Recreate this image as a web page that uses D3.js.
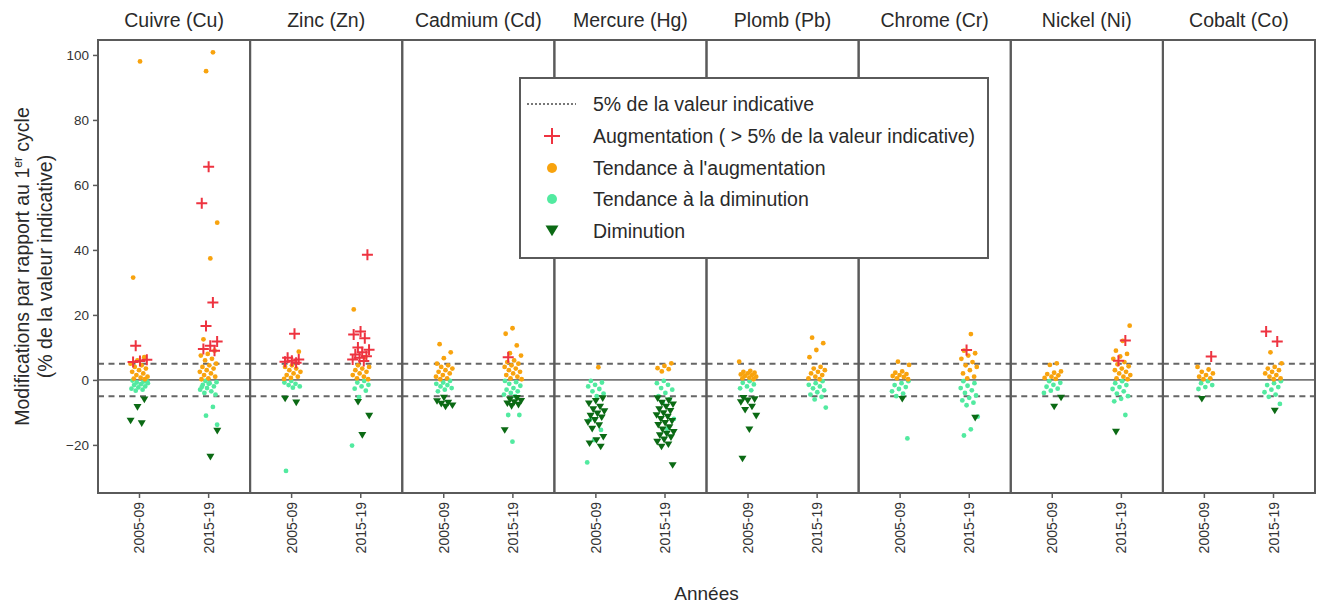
<!DOCTYPE html>
<html><head><meta charset="utf-8">
<script src="https://cdn.jsdelivr.net/npm/d3@7"></script>
<style>
body{margin:0;background:#fff;}
svg{font-family:"Liberation Sans",Arial,sans-serif;}
</style></head>
<body><svg id="c" width="1317" height="603"></svg>
<script>
const metals = ["Cuivre (Cu)","Zinc (Zn)","Cadmium (Cd)","Mercure (Hg)","Plomb (Pb)","Chrome (Cr)","Nickel (Ni)","Cobalt (Co)"];
const periods = ["2005-09","2015-19"];
const yTicks = [-20,0,20,40,60,80,100];
const threshold = 5;

// aug = Augmentation (>5%), taug = tendance à l'augmentation, tdim = tendance à la diminution, dim = Diminution
const cuivre = {
  "2005-09": {aug:[10.5,6.2,5.8,5.5], taug:[98,31.5,7,6,5,4.5,4,3.5,3,2.5,2,1.5,1,0.7,0.4,0.2], tdim:[-0.2,-0.5,-0.8,-1,-1.3,-1.6,-2,-2.3,-2.7,-3,-3.3,-0.4], dim:[-6,-8.3,-12.5,-13.3]},
  "2015-19": {aug:[65.6,54.4,23.8,16.6,11.8,10.5,9.5,9], taug:[100.8,95,48.4,37.4,12.5,9,8,7.5,6.5,6,5,4.5,4,3.5,3,2.5,2,1.5,1,0.5,0.2], tdim:[-0.3,-0.7,-1,-1.5,-2,-2.5,-3,-3.5,-4,-4.5,-1.2,-2.2,-8.3,-11,-13.8], dim:[-15.6,-23.6]}
};
const zinc = {
  "2005-09": {aug:[14.2,6.8,6.3,5.9,5.6,5.3], taug:[8.7,4.5,4,3.5,3,2.5,2,1.5,1,0.6,0.3], tdim:[-0.3,-0.8,-1.2,-1.6,-2,-2.4,-28], dim:[-5.7,-6.9]},
  "2015-19": {aug:[38.5,14.9,14,12.8,10,9.3,8.5,7.8,7.3,6.8,6.3,5.8], taug:[21.7,7,4.5,4,3.5,3,2.5,2,1.5,1,0.5,0.2], tdim:[-0.3,-0.8,-1.5,-2,-2.7,-3.3,-5.3,-20.2], dim:[-6.7,-11,-16.9]}
};
const cadmium = {
  "2005-09": {aug:[], taug:[11,8.5,6.7,5,4.5,4,3.5,3,2.5,2,1.5,1,0.5,0.2], tdim:[-0.3,-0.8,-1.2,-1.6,-2,-2.5,-3,-3.5], dim:[-5.4,-6.5,-7,-7.3,-7.8,-8.2]},
  "2015-19": {aug:[7], taug:[15.9,14.2,10.6,8.2,7.5,6,5.5,5,4.5,4,3.5,3,2.5,2,1.5,1,0.5,0.2], tdim:[-0.3,-0.7,-1.2,-1.8,-2.5,-3,-3.5,-4,-4.5,-5,-10.8,-10.8,-19], dim:[-5.5,-6,-6.4,-6.8,-7.2,-7.6,-8,-15.4]}
};
const mercure = {
  "2005-09": {aug:[], taug:[3.9], tdim:[-0.3,-0.8,-1.5,-2,-2.8,-3.5,-4.2,-5,-12.3,-15.4,-18.5,-25.4], dim:[-5.6,-6.4,-7.2,-8.2,-9,-9.6,-10.3,-11,-11.5,-12.3,-13,-13.9,-15,-17.5,-18.5,-19.5,-20.5]},
  "2015-19": {aug:[], taug:[5.1,4.3,3.6,3.3,2.6], tdim:[-0.3,-1,-1.5,-2.5,-3,-4,-5,-6,-7,-12,-15], dim:[-5.6,-6.3,-7,-7.5,-8.2,-9,-9.5,-10.2,-10.8,-11.3,-12,-12.6,-13.2,-13.8,-14.5,-15.2,-16,-16.5,-17,-17.6,-18.3,-19,-19.8,-20.5,-26.2]}
};
const plomb = {
  "2005-09": {aug:[], taug:[5.6,2.8,2.5,2.2,2,1.7,1.5,1.2,1,0.7,0.5,0.2], tdim:[-0.4,-0.9,-1.4,-2,-2.6,-3.2], dim:[-5.5,-5.9,-6.3,-6.8,-8.2,-9.2,-11,-15.2,-24.2]},
  "2015-19": {aug:[], taug:[13,11.3,9.2,7,4,3.5,3,2.5,2,1.5,1,0.5,0.2], tdim:[-0.4,-1,-1.5,-2,-2.6,-3.2,-3.8,-4.5,-5.2,-6,-8.5], dim:[]}
};
const chrome = {
  "2005-09": {aug:[], taug:[5.6,4.6,2.6,2.2,1.8,1.5,1.2,0.9,0.5,0.2], tdim:[-0.4,-1,-1.6,-2.2,-2.8,-3.5,-4.2,-5,-18], dim:[-5.8]},
  "2015-19": {aug:[9.2], taug:[14.1,9,8.2,7.5,6.5,5.5,4.5,4,3,2,1,0.5], tdim:[-0.4,-1,-1.8,-2.5,-3.2,-4,-4.8,-5.5,-6.3,-7,-7.8,-11.3,-15.2,-17.1], dim:[-11.6]}
};
const nickel = {
  "2005-09": {aug:[], taug:[5.1,4.6,2.6,2.2,1.8,1.4,1,0.6,0.3], tdim:[-0.4,-0.9,-1.5,-2.1,-2.7,-3.3,-4], dim:[-5.4,-8.2]},
  "2015-19": {aug:[12.1,5.9], taug:[16.7,12,9,8,7.2,6.5,5.5,4.8,4.2,3.5,3,2.5,2,1.5,1,0.5,0.2], tdim:[-0.4,-1,-1.6,-2.2,-2.8,-3.5,-4.2,-5,-5.8,-6.6,-10.8], dim:[-15.9]}
};
const cobalt = {
  "2005-09": {aug:[7.2], taug:[4,3.2,2.5,2,1.5,1,0.5,0.2], tdim:[-0.4,-1,-1.6,-2.2,-2.8], dim:[-5.8]},
  "2015-19": {aug:[14.9,11.8], taug:[8.5,5.1,4,3.5,3,2.5,2,1.5,1,0.5,0.2], tdim:[-0.4,-1,-1.6,-2.2,-3,-3.8,-4.5,-5.2,-7.4], dim:[-9.4]}
};
const metalData = [cuivre,zinc,cadmium,mercure,plomb,chrome,nickel,cobalt];

const legendLabels = ["5% de la valeur indicative","Augmentation ( > 5% de la valeur indicative)","Tendance à l'augmentation","Tendance à la diminution","Diminution"];

const colors = {aug:"#ee3340", taug:"#f8a30e", tdim:"#52eaa0", dim:"#0b6a14"};
const axisCol = "#5a5a5a";
const textCol = "#2a2a2a";

const svg = d3.select("#c");
const L = 98, R = 1315, T = 40, B = 493;
const fx = d3.scaleBand().domain(metals).range([L,R]).padding(0);
const bw = fx.bandwidth();
const xi = d3.scalePoint().domain(periods).range([0,bw]).padding(0.6);
const y = d3.scaleLinear().domain([-34.8,104.6]).range([B,T]);

const jitterW = 9;
function jit(i, seed){ const v = ((i*0.618034 + seed) % 1); return (v*2-1)*jitterW; }

const crossPath = s => `M${-s},0H${s}M0,${-s}V${s}`;
const triPath = s => `M${-s},${-s*0.7}L${s},${-s*0.7}L0,${s*0.95}Z`;

metals.forEach((m, mi) => {
  const g = svg.append("g").attr("transform", `translate(${fx(m)},0)`);
  g.append("text").attr("x", bw/2).attr("y", 27).attr("text-anchor","middle")
    .attr("font-size", 19.5).attr("fill",textCol).text(m);
  g.append("line").attr("x1",0).attr("x2",bw).attr("y1",y(0)).attr("y2",y(0))
    .attr("stroke","#777").attr("stroke-width",1.6);
  [threshold,-threshold].forEach(t => {
    g.append("line").attr("x1",0).attr("x2",bw).attr("y1",y(t)).attr("y2",y(t))
      .attr("stroke","#666").attr("stroke-width",2).attr("stroke-dasharray","6,4.5");
  });
  const d = metalData[mi];
  periods.forEach((p, pi) => {
    const cx = xi(p);
    const grp = d[p];
    const seedBase = mi*0.37 + pi*0.21;
    grp.tdim.forEach((v,i) => g.append("circle").attr("cx", cx + jit(i, seedBase+0.11)).attr("cy", y(v)).attr("r",2.4).attr("fill",colors.tdim));
    grp.taug.forEach((v,i) => g.append("circle").attr("cx", cx + jit(i, seedBase+0.53)).attr("cy", y(v)).attr("r",2.4).attr("fill",colors.taug));
    grp.dim.forEach((v,i) => g.append("path").attr("d", triPath(4)).attr("transform",`translate(${cx + jit(i, seedBase+0.77)},${y(v)})`).attr("fill",colors.dim));
    grp.aug.forEach((v,i) => g.append("path").attr("d", crossPath(5.5)).attr("transform",`translate(${cx + jit(i, seedBase+0.29)},${y(v)})`).attr("stroke",colors.aug).attr("stroke-width",2).attr("fill","none"));
  });
  periods.forEach(p => {
    g.append("line").attr("x1",xi(p)).attr("x2",xi(p)).attr("y1",B).attr("y2",B+5).attr("stroke",axisCol).attr("stroke-width",1.5);
    g.append("text").attr("transform",`translate(${xi(p)+5},${B+9}) rotate(-90)`)
      .attr("text-anchor","end").attr("font-size",14).attr("fill","#333").text(p);
  });
  g.append("rect").attr("x",0).attr("y",T).attr("width",bw).attr("height",B-T)
    .attr("fill","none").attr("stroke",axisCol).attr("stroke-width",2);
});

const ya = svg.append("g").attr("transform",`translate(${L},0)`)
  .call(d3.axisLeft(y).tickValues(yTicks).tickSize(5).tickPadding(4));
ya.select(".domain").remove();
ya.selectAll("line").attr("stroke",axisCol).attr("stroke-width",1.5);
ya.selectAll("text").attr("font-size",13.5).attr("fill","#333").attr("font-family","Liberation Sans, Arial, sans-serif");

const yt = svg.append("text").attr("transform",`translate(29,${(T+B)/2}) rotate(-90)`)
  .attr("text-anchor","middle").attr("font-size",19.5).attr("fill",textCol);
yt.append("tspan").text("Modifications par rapport au 1");
yt.append("tspan").attr("font-size",12).attr("dy",-7).text("er");
yt.append("tspan").attr("dy",7).text(" cycle");
svg.append("text").attr("transform",`translate(52,${(T+B)/2}) rotate(-90)`)
  .attr("text-anchor","middle").attr("font-size",19.5).attr("fill",textCol).text("(% de la valeur indicative)");

svg.append("text").attr("x",(L+R)/2).attr("y",600).attr("text-anchor","middle")
  .attr("font-size",19).attr("fill",textCol).text("Années");

const lg = svg.append("g");
lg.append("rect").attr("x",520).attr("y",78).attr("width",468).attr("height",180)
  .attr("fill","#fff").attr("stroke",axisCol).attr("stroke-width",2);
const rows = [104,136,168,199,231];
const sx = 552;
lg.append("line").attr("x1",527).attr("x2",576).attr("y1",rows[0]).attr("y2",rows[0])
  .attr("stroke","#777").attr("stroke-width",1.8).attr("stroke-dasharray","2,2");
lg.append("path").attr("d",crossPath(8)).attr("transform",`translate(${sx},${rows[1]})`).attr("stroke",colors.aug).attr("stroke-width",2).attr("fill","none");
lg.append("circle").attr("cx",sx).attr("cy",rows[2]).attr("r",5).attr("fill",colors.taug);
lg.append("circle").attr("cx",sx).attr("cy",rows[3]).attr("r",5).attr("fill",colors.tdim);
lg.append("path").attr("d",triPath(6.5)).attr("transform",`translate(${sx},${rows[4]-1})`).attr("fill",colors.dim);
legendLabels.forEach((t,i) => {
  lg.append("text").attr("x",593).attr("y",rows[i]+6.5).attr("font-size",19.5).attr("fill",textCol).text(t);
});
</script></body></html>
